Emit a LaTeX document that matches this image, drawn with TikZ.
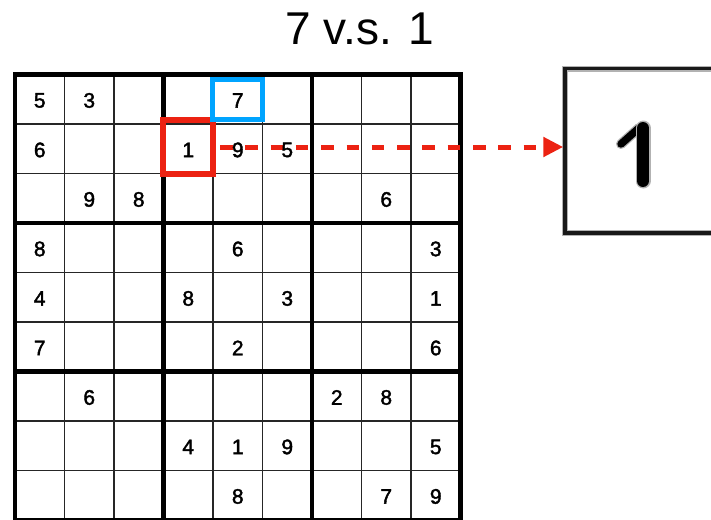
\documentclass[tikz,border=0pt]{standalone}
\usepackage{fontspec}
\setmainfont{Liberation Sans}
\newfontfamily\cellfont[FakeBold=1.9]{Liberation Sans}
\usetikzlibrary{arrows.meta}
\definecolor{markred}{RGB}{236,34,18}
\definecolor{markblue}{RGB}{0,164,255}
\tikzset{
  thinline/.style={line width=1.5pt, black!85},
  thickline/.style={line width=4.6pt, black, line cap=rect},
  digit/.style={font=\cellfont\fontsize{21}{21}\selectfont, inner sep=0pt, yshift=-1.2pt},
  markbox/.style={draw, line width=#1, inner sep=0pt, fill=none},
  pointer/.style={draw=markred, line width=5pt, dash pattern=on 12.5pt off 12.8pt,
    -{Triangle[length=20pt,width=19pt,fill=markred]}},
  patchhalo/.style={draw=black!30, line width=6pt, inner sep=0pt},
  patchframe/.style={draw=black!90, line width=3.5pt, inner sep=0pt},
  stroke/.style={line cap=round, line join=round}
}
\begin{document}
\begin{tikzpicture}[x=1pt,y=-1pt]
\useasboundingbox (0,0) rectangle (711,519);

% title
\node[font=\fontsize{46}{46}\selectfont, anchor=base, inner sep=0pt] (title) at (360,45) {7 v.s. 1};

% sudoku grid: thin cell lines, then thick box lines
\foreach \i in {0,...,9} {
  \draw[thinline] ({15+\i*49.5},74.5) -- ({15+\i*49.5},522);
  \draw[thinline] (15,{74.5+\i*49.5}) -- (460.5,{74.5+\i*49.5});
}
\foreach \i in {0,3,6,9} {
  \draw[thickline] ({15+\i*49.5},74.5) -- ({15+\i*49.5},522);
  \draw[thickline] (15,{74.5+\i*49.5}) -- (460.5,{74.5+\i*49.5});
}

% highlighted cells
\node[markbox=6pt, draw=markred, minimum width=50pt, minimum height=54pt] (redbox) at (188,147) {};
\node[markbox=5pt, draw=markblue, minimum width=49.5pt, minimum height=40.5pt] (bluebox) at (237.25,99.25) {};

% enlarged patch on the right
\node[patchhalo, minimum width=180pt, minimum height=164.5pt] (halo) at (655,150.75) {};
\node[patchframe, minimum width=180pt, minimum height=164.5pt] (patch) at (655,150.75) {};
\draw[stroke, black!30, line width=10pt] (639,128) -- (621,144);
\draw[stroke, black, line width=7.5pt] (639,128) -- (621,144);
\draw[stroke, black!30, line width=15pt] (643,128) -- (643,181);
\draw[stroke, black, line width=12pt] (643,128) -- (643,181);

% pointer from the red cell to the patch
\draw[pointer] ([xshift=4pt]redbox.east) -- (redbox.east -| patch.west);

% given digits
\foreach \r/\c/\v in {1/1/5,1/2/3,1/5/7,
                      2/1/6,2/4/1,2/5/9,2/6/5,
                      3/2/9,3/3/8,3/8/6,
                      4/1/8,4/5/6,4/9/3,
                      5/1/4,5/4/8,5/6/3,5/9/1,
                      6/1/7,6/5/2,6/9/6,
                      7/2/6,7/7/2,7/8/8,
                      8/4/4,8/5/1,8/6/9,8/9/5,
                      9/5/8,9/8/7,9/9/9} {
  \node[digit] (d\r\c) at ({15+(\c-0.5)*49.5},{74.5+(\r-0.5)*49.5}) {\v};
}
\end{tikzpicture}
\end{document}
